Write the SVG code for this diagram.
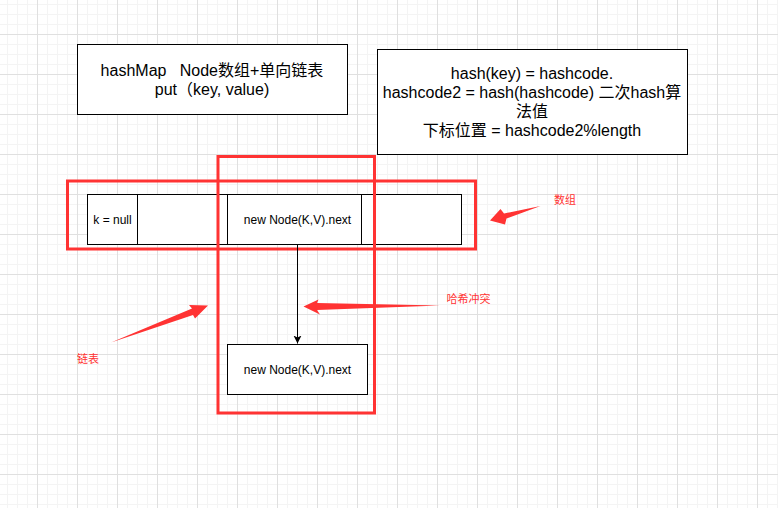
<svg xmlns="http://www.w3.org/2000/svg" width="778" height="508" viewBox="0 0 778 508">
<defs>
<pattern id="grid" patternUnits="userSpaceOnUse" x="-3" y="-6" width="40" height="40">
<rect x="10" y="0" width="1" height="40" fill="#f4f4f4"/>
<rect x="20" y="0" width="1" height="40" fill="#f4f4f4"/>
<rect x="30" y="0" width="1" height="40" fill="#f4f4f4"/>
<rect x="0" y="10" width="40" height="1" fill="#f4f4f4"/>
<rect x="0" y="20" width="40" height="1" fill="#f4f4f4"/>
<rect x="0" y="30" width="40" height="1" fill="#f4f4f4"/>
<rect x="0" y="0" width="1" height="40" fill="#e0e0e0"/>
<rect x="0" y="0" width="40" height="1" fill="#e0e0e0"/>
</pattern>
<marker id="arr" markerUnits="userSpaceOnUse" markerWidth="10" markerHeight="10" refX="8" refY="4" orient="auto">
<path d="M0,0 L8,4 L0,8 L2,4 Z" fill="#000"/>
</marker>
</defs>
<style>
.box{fill:#fff;stroke:#000;stroke-width:1}
.hl{fill:none;stroke:#ff3333;stroke-width:3}
.t16{font-family:"Liberation Sans","Noto Sans CJK SC",sans-serif;font-size:16px;fill:#000;text-anchor:middle}
.t12{font-family:"Liberation Sans","Noto Sans CJK SC",sans-serif;font-size:12px;fill:#000;text-anchor:middle}
.lbl{font-family:"Liberation Sans","Noto Sans CJK SC",sans-serif;font-size:11px;fill:#ff3333}
.red{fill:#ff3333}
</style>
<rect width="778" height="508" fill="#fff"/>
<rect width="778" height="508" fill="url(#grid)"/>

<g id="info-box">
<rect class="box" x="77.5" y="44.5" width="270" height="70"/>
<text class="t16" x="212" y="76">hashMap&#160;&#160;&#160;Node数组+单向链表</text>
<text class="t16" x="212" y="95">put（key, value)</text>
</g>

<g id="hash-box">
<rect class="box" x="377.5" y="49.5" width="310" height="105"/>
<text class="t16" x="532" y="79">hash(key) = hashcode.</text>
<text class="t16" x="532" y="98">hashcode2 = hash(hashcode) 二次hash算</text>
<text class="t16" x="532" y="117">法值</text>
<text class="t16" x="532" y="136">下标位置 = hashcode2%length</text>
</g>

<g id="cell0">
<rect class="box" x="87.5" y="194.5" width="50" height="50"/>
<text class="t12" x="112.5" y="223.5">k = null</text>
</g>
<g id="cell1">
<rect class="box" x="137.5" y="194.5" width="90" height="50"/>
</g>
<g id="cell2">
<rect class="box" x="227.5" y="194.5" width="134" height="50"/>
<text class="t12" x="297.5" y="223.5">new Node(K,V).next</text>
</g>
<g id="cell3">
<rect class="box" x="361.5" y="194.5" width="100" height="50"/>
</g>

<g id="node2">
<rect class="box" x="227.5" y="344.5" width="140" height="50"/>
<text class="t12" x="297.5" y="373.5">new Node(K,V).next</text>
</g>

<g id="array-highlight">
<rect class="hl" x="67.5" y="181" width="408" height="68"/>
</g>
<g id="list-highlight">
<rect class="hl" x="218" y="156.5" width="156.5" height="256.5"/>
</g>

<g id="connectors">
<line x1="297.5" y1="244.5" x2="297.5" y2="343.5" stroke="#000" stroke-width="1" marker-end="url(#arr)"/>
<polygon class="red" points="540.5,206 506.5,218.5 505,224.5 490,220.5 500.5,209 504,213.5"/>
<polygon class="red" points="440,305.5 317,310 320,314.5 303.5,306.5 318.5,299.5 317,303"/>
<polygon class="red" points="111,342.5 193,315 195,318.5 208,305.5 189,305 192,308.5"/>
</g>

<g id="labels">
<text class="lbl" x="554" y="203.5">数组</text>
<text class="lbl" x="446.5" y="303">哈希冲突</text>
<text class="lbl" x="77" y="363">链表</text>
</g>
</svg>
